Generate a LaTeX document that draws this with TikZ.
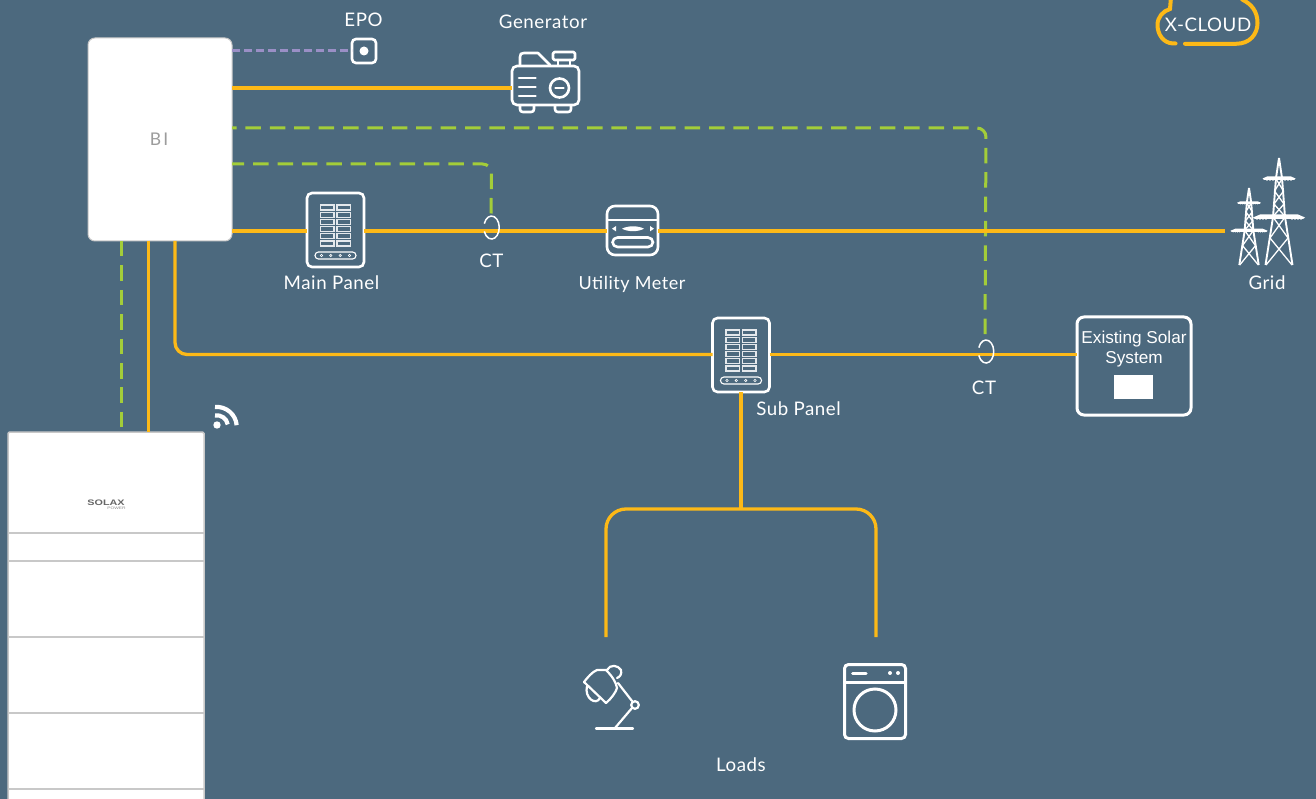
\documentclass[tikz,border=0pt]{standalone}
\usepackage{fontspec}
\setmainfont{Lato}[LetterSpace=3]
\newfontfamily\arialf{Liberation Sans}
\newfontfamily\logof{Liberation Sans}[FakeStretch=1.35]
\usetikzlibrary{calc}
\definecolor{bgc}{HTML}{4C697E}
\definecolor{ybus}{HTML}{FDB917}
\definecolor{gbus}{HTML}{A3CD39}
\definecolor{pbus}{HTML}{9A8FC6}
\definecolor{lblgray}{HTML}{9C9C9C}
\definecolor{edgegray}{HTML}{C8C8C8}
\tikzset{
  x=1pt,y=-1pt,
  lbl/.style={text=white,font=\fontsize{18.7}{22}\selectfont,inner sep=0pt,outer sep=0pt},
  power/.style={draw=ybus,line width=3.3pt,rounded corners=12pt},
  signal/.style={draw=gbus,line width=3pt,dash pattern=on 15.5pt off 8.9pt,rounded corners=9pt},
  stopline/.style={draw=pbus,line width=3.8pt,dash pattern=on 8pt off 4pt},
  ico/.style={draw=white,line width=2.6pt,line cap=round,line join=round},
  thin ico/.style={draw=white!85!bgc,line width=1.1pt},
  iconbox/.style={draw=white,line width=2.6pt,inner sep=0pt,outer sep=0pt,rectangle},
  pics/breakers/.style={code={
    \foreach \r in {0,1,2,3,4,5}{
      \draw[thin ico] (-15,{-25+7.2*\r}) rectangle (-1.5,{-20+7.2*\r});
      \draw[thin ico] (1.5,{-25+7.2*\r}) rectangle (15,{-20+7.2*\r});
    }
    \draw[thin ico,draw=white,rounded corners=3.4pt] (-20.5,22) rectangle (20.5,29);
    \foreach \c in {-14,-4.7,4.7,14}{\draw[draw=white,line width=.6pt] (\c,25.5) circle[radius=1.2];}
  }},
  pics/tower/.style={code={
    \draw[draw=white,line width=1.9pt,line join=bevel]
      (-13.5,107) -- (-6,59) -- (-3,20) -- (0,0) -- (3,20) -- (6,59) -- (13.5,107);
    \draw[draw=white,line width=1.3pt]
      (-6,59) -- (9,80) -- (-13,107)
      (6,59) -- (-9,80) -- (13,107)
      (-3,21) -- (4.5,33) -- (-5,46) -- (5.6,58)
      (3,21) -- (-4.5,33) -- (5,46) -- (-5.6,58);
    \fill[white] (-16.5,20.5) -- (-12,18.5) -- (12,18.5) -- (16.5,20.5) -- (15,22) -- (-15,22) -- cycle;
    \fill[white] (-26,59.5) -- (-19,56.5) -- (19,56.5) -- (26,59.5) -- (24,61) -- (-24,61) -- cycle;
    \foreach \c in {-12,-9,-6,6,9,12}{\fill[white] (\c,22) circle[radius=.9];}
    \foreach \c in {-22,-19,-16,-13,13,16,19,22}{\fill[white] (\c,61) circle[radius=.9];}
  }},
}
\begin{document}
\begin{tikzpicture}
\useasboundingbox (0,0) rectangle (1316,799);
\fill[bgc] (0,0) rectangle (1316,799);

% named nodes
\node[draw=edgegray,fill=white,line width=1pt,rounded corners=7pt,minimum width=144pt,minimum height=203pt,inner sep=0pt,outer sep=0pt,text=lblgray,font=\fontsize{17.5}{20}\selectfont\addfontfeature{LetterSpace=12}] (bi) at (160,139.5) {\hspace*{-2pt}BI};
\node[iconbox,rounded corners=4pt,minimum width=24pt,minimum height=24pt] (epo) at (364,51) {};
\node[iconbox,rounded corners=5pt,minimum width=67pt,minimum height=39pt] (gen) at (545.5,85.5) {};
\node[iconbox,rounded corners=5pt,minimum width=57pt,minimum height=74pt] (main) at (335.5,230) {};
\node[iconbox,rounded corners=5pt,minimum width=57pt,minimum height=74pt] (sub) at (741,355) {};
\node[iconbox,rounded corners=8pt,minimum width=51pt,minimum height=49pt] (meter) at (632.5,230.5) {};
\node[iconbox,line width=3pt,rounded corners=7pt,minimum width=114pt,minimum height=98pt] (solar) at (1134,366) {};
\node[iconbox,line width=3pt,rounded corners=4pt,minimum width=61pt,minimum height=74pt] (washer) at (875,701.5) {};
\node[draw=edgegray,fill=white,line width=1.5pt,rectangle,rounded corners=1.5pt,minimum width=196pt,minimum height=390pt,inner sep=0pt,outer sep=0pt] (batt) at (106,627) {};
\coordinate (gridin) at (1225,231);
\coordinate (ct1) at (491.5,227.5);
\coordinate (ct2) at (986,351.5);
\coordinate (loadL) at (606,637);
\coordinate (loadR) at (876,637);
\coordinate (tee) at (741,509);

% connectors
\draw[stopline] (bi.east |- 0,50.5) -- (epo.west |- 0,50.5);
\draw[power] (bi.east |- 0,88) -- (gen.west |- 0,88);
\draw[signal,dash phase=11pt] (bi.east |- 0,128) -- (ct2 |- 0,128) -- (985,335);
\draw[signal,dash phase=3.3pt] (bi.east |- 0,164) -- (ct1 |- 0,164) -- (491,214.5);
\draw[power] (bi.east |- 0,231) -- (main.west |- 0,231);
\draw[power] (main.east |- 0,231) -- (meter.west |- 0,231);
\draw[power] (meter.east |- 0,231) -- (gridin);
\draw[power] (175,241) -- (175,354.5) -- (sub.west |- 0,354.5);
\draw[power] (sub.east |- 0,354.5) -- (solar.west |- 0,354.5);
\draw[signal] (121.5,241) -- (121.5,432);
\draw[power] (148.5,241) -- (148.5,432);
\draw[power] (sub.south) -- (tee);
\draw[power,rounded corners=20pt] (loadL) -- (loadL |- tee) -- (loadR |- tee) -- (loadR);

% battery dividers and logo
\foreach \yy in {533,561,637,713,789}{\draw[edgegray,line width=1.4pt] (8,\yy) -- (204,\yy);}
\node[inner sep=0pt,text=black!60,font=\logof\bfseries\fontsize{8}{8}\selectfont] (logo) at (106,502.5) {SOLAX};
\node[inner sep=0pt,text=black!45,font=\logof\fontsize{3.6}{4}\selectfont] (logob) at (116.5,507.8) {POWER};

% CT rings
\draw[draw=white,line width=1.5pt] (ct1) ++(-7.2,-3.9) arc[start angle=-160,end angle=160,x radius=7.7,y radius=11.5];
\draw[draw=white,line width=1.5pt] (ct2) ++(-7.2,-3.9) arc[start angle=-160,end angle=160,x radius=7.7,y radius=11.5];

% EPO
\fill[white] (epo) circle[radius=4.5];

% Generator
\draw[ico] (520,65) -- (520,57) .. controls (520,54) and (521,53) .. (524,53) -- (538,53) -- (550,65);
\draw[ico,rounded corners=1.5pt] (553,52) rectangle (575,60);
\draw[ico] (558,60) -- (558,65) (570,60) -- (570,65);
\draw[ico] (520,106) -- (520,109) .. controls (520,111) and (521,112) .. (523,112) -- (531,112) .. controls (533,112) and (534,111) .. (534,109) -- (534,106);
\draw[ico] (555,106) -- (555,109) .. controls (555,111) and (556,112) .. (558,112) -- (568,112) .. controls (570,112) and (571,111) .. (571,109) -- (571,106);
\draw[ico] (519,78) -- (535.5,78) (519,87) -- (535.5,87) (519,96) -- (535.5,96);
\draw[ico] (559.5,88) circle[radius=9.5];
\draw[ico] (555.5,88) -- (563.5,88);

% Panels
\pic at (335.5,230) {breakers};
\pic at (741,355) {breakers};

% Meter
\draw[ico,line cap=butt] (meter.west |- 0,220) -- (meter.east |- 0,220);
\fill[white] (622,228.7) .. controls (628,225.5) and (638,225.5) .. (644,228.7) .. controls (638,232) and (628,232) .. (622,228.7) -- cycle;
\fill[white] (612,228.7) -- (616,226) -- (616,231.4) -- cycle;
\fill[white] (654,228.7) -- (650,226) -- (650,231.4) -- cycle;
\draw[ico,rounded corners=5pt] (612.5,237.5) rectangle (653,247);

% Towers
\pic at (1279,158) {tower};
\pic[scale=.72] at (1249,188) {tower};

% Solar inner
\fill[white] (1114,375) rectangle (1153,399);

% Wifi
\fill[white] (217,425) circle[radius=3.7];
\draw[draw=white,line width=4.2pt] (215,415.5) arc[start angle=-100,end angle=-10,radius=11];
\draw[draw=white,line width=4.2pt] (215,407) arc[start angle=-95,end angle=-5,radius=20];

% Lamp
\draw[ico,line width=2.2pt] (584,682) .. controls (588,677) and (592,672) .. (597,670) -- (606,670) .. controls (612,676) and (616,682) .. (617,688) .. controls (616,692) and (611,699) .. (606,703) -- cycle;
\draw[ico,line width=2.2pt] (587,686) .. controls (584,698) and (596,706) .. (600,698);
\draw[ico,line width=2.2pt] (607,670) .. controls (610,664) and (618,665) .. (621,670) .. controls (622,674) and (620,677) .. (617,678);
\draw[ico,line width=2.2pt] (618,683) -- (632,701);
\draw[ico,line width=2.2pt] (635,705) circle[radius=3.8];
\draw[ico,line width=2.2pt] (632,708) -- (615,728);
\draw[ico,line width=2.2pt] (596,728.5) -- (633,728.5);

% Washer
\draw[ico,line width=3pt,line cap=butt] (washer.west |- 0,682.5) -- (washer.east |- 0,682.5);
\draw[draw=white,line width=3pt,line cap=round] (852.5,673) -- (866,673);
\fill[white] (890,673) circle[radius=2] (898,673) circle[radius=2];
\draw[draw=white,line width=3pt] (875,710) circle[radius=21];

% Cloud
\draw[draw=ybus,line width=4pt,line cap=round] (1175.5,43.5) -- (1173,43.5) .. controls (1163,43) and (1157.5,34) .. (1157.5,25) .. controls (1157.5,17) and (1163,11) .. (1170,9) -- (1171,-3);
\draw[draw=ybus,line width=4pt,line cap=round] (1185,43.8) -- (1236,43.8) .. controls (1250,43.8) and (1257.5,34) .. (1257.5,23) .. controls (1257.5,11) and (1251,4) .. (1243,0) -- (1240,-3);

% Labels
\node[lbl] (lepo) at (363.5,19.7) {EPO};
\node[lbl] (lgen) at (543,21.7) {Generator};
\node[lbl] (lmain) at (331.5,282.5) {Main Panel};
\node[lbl] (lct1) at (491.5,260.7) {CT};
\node[lbl,font=\fontsize{18}{22}\selectfont] (lmeter) at (632,284) {Utility Meter};
\node[lbl] (lgrid) at (1267,282.5) {Grid};
\node[lbl] (lsub) at (798.5,409) {Sub Panel};
\node[lbl] (lct2) at (984,387.7) {CT};
\node[lbl] (lload) at (741,764.5) {Loads};
\node[lbl] (lcloud) at (1208,24.5) {X-CLOUD};
\node[inner sep=0pt,text=white,font=\arialf\fontsize{17.2}{20}\selectfont,align=center] (lsolar) at (1134,349.5) {Existing Solar\\System};
\end{tikzpicture}
\end{document}
